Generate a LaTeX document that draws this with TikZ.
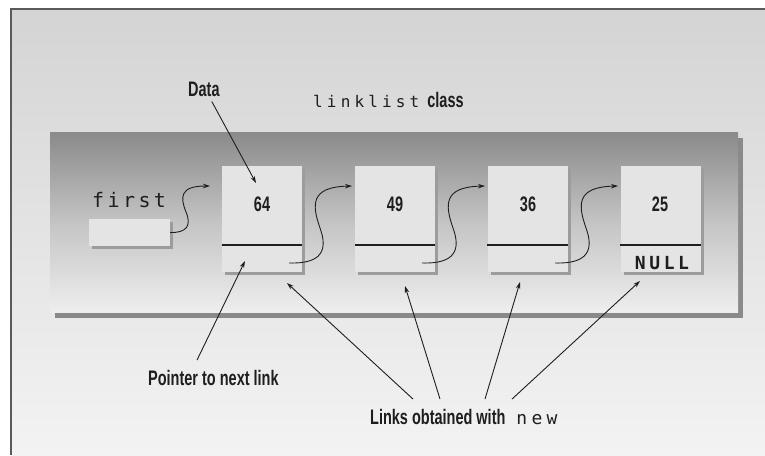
\documentclass[tikz,border=0pt]{standalone}
\usepackage{fontspec}
\usetikzlibrary{arrows.meta,shadows,calc}
\newfontfamily\condfont[FakeStretch=0.69]{Liberation Sans Bold}
\newfontfamily\monofont{DejaVu Sans Mono}
\definecolor{bgtop}{HTML}{D4D4D4}
\definecolor{bgbot}{HTML}{F3F3F3}
\definecolor{frm}{HTML}{5A5A5A}
\definecolor{clstop}{HTML}{8A8A8A}
\definecolor{clsmid}{HTML}{C4C4C4}
\definecolor{clsbot}{HTML}{EEEEEE}
\definecolor{clsshd}{HTML}{8A8A8A}
\definecolor{boxfill}{HTML}{E4E4E4}
\definecolor{boxshd}{HTML}{9C9C9C}
\definecolor{ink}{HTML}{1E1E1E}
\tikzset{
  lab/.style={font=\condfont\fontsize{21}{21}\selectfont, text=ink, inner sep=0pt},
  numtxt/.style={font=\condfont\fontsize{21}{21}\selectfont, text=ink, inner sep=0pt},
  linkbox/.style={fill=boxfill, draw=none, minimum width=80pt, minimum height=106pt, inner sep=0pt,
     drop shadow={shadow xshift=3pt, shadow yshift=-3pt, fill=boxshd, opacity=1}},
  divider/.style={draw=ink, line width=1.6pt},
  ptr/.style={draw=ink, line width=0.9pt, -{Stealth[length=7pt,width=4.5pt]}},
}
\newcommand{\spmono}[3]{{\monofont\fontsize{#1}{#1}\selectfont\addfontfeature{LetterSpace=#2}#3}}
\newcommand{\condtxt}[1]{{\condfont\fontsize{21}{21}\selectfont #1}}
\begin{document}
\begin{tikzpicture}[x=1pt,y=-1pt]
\useasboundingbox (0,0) rectangle (765,455);
\fill[white] (0,0) rectangle (765,455);
\fill[top color=bgtop, bottom color=bgbot] (11,9) rectangle (765,455);
\draw[frm, line width=1.2pt] (11,455) -- (11,9) -- (765,9);
% class container
\node[top color=clstop, bottom color=clsbot, middle color=clsmid, minimum width=688pt, minimum height=180pt, inner sep=0pt,
      drop shadow={shadow xshift=5pt, shadow yshift=-6pt, fill=clsshd, opacity=1}] (cls) at (394,222) {};
% title texts
\node[lab, anchor=west] (data) at (188,89) {Data};
\node[inner sep=0pt, anchor=west, text=ink] (title) at (313,100) {\spmono{16}{26}{linklist}\hspace{8pt}\condtxt{class}};
% first
\node[inner sep=0pt, anchor=west, text=ink] (fname) at (92,200) {\spmono{20}{17}{first}};
\node[fill=boxfill, minimum width=81pt, minimum height=27pt, inner sep=0pt,
      drop shadow={shadow xshift=3pt, shadow yshift=-3pt, fill=boxshd, opacity=1}] (fbox) at (129.5,232.5) {};
% links
\node[linkbox] (l1) at (262,219) {};
\node[linkbox] (l2) at (395,219) {};
\node[linkbox] (l3) at (527.5,219) {};
\node[linkbox] (l4) at (660.5,219) {};
\foreach \n in {l1,l2,l3,l4}{
  \draw[divider] ($(\n.south west)+(0pt,27pt)$) -- ($(\n.south east)+(0pt,27pt)$);
}
\node[numtxt] (d1) at (262,204) {64};
\node[numtxt] (d2) at (395,204) {49};
\node[numtxt] (d3) at (528,204) {36};
\node[numtxt] (d4) at (660,204) {25};
\node[inner sep=0pt, text=ink] (nul) at (662,263) {\bfseries\spmono{18}{20}{NULL}};
% pointer fields and targets
\coordinate (p1) at (289,263);
\coordinate (p2) at (422,263);
\coordinate (p3) at (555,263);
\coordinate (t1) at (210,186);
\coordinate (t2) at (352,186);
\coordinate (t3) at (485,186);
\coordinate (t4) at (618,186);
\draw[ptr] (fbox.east) .. controls (186,233) and (192,226) .. (186,212) .. controls (180,197) and (180,186) .. (t1);
\draw[ptr] (p1) .. controls (322,264) and (328,250) .. (320,228) .. controls (312,205) and (310,187) .. (t2);
\draw[ptr] (p2) .. controls (455,264) and (461,250) .. (453,228) .. controls (445,205) and (443,187) .. (t3);
\draw[ptr] (p3) .. controls (588,264) and (594,250) .. (586,228) .. controls (578,205) and (576,187) .. (t4);
% bottom labels
\node[lab, anchor=west] (ptxt) at (148,378) {Pointer to next link};
\node[inner sep=0pt, anchor=west, text=ink] (ltxt) at (370,417) {\condtxt{Links obtained with}\hspace{11pt}\spmono{18}{24}{new}};
% label arrows
\coordinate (dtip) at (256,183);
\coordinate (ptip) at (245,261);
\coordinate (a1) at (287,283);
\coordinate (a2) at (405,286);
\coordinate (a3) at (520,282);
\coordinate (a4) at (640,281);
\draw[ptr] ([shift={(-8pt,-5pt)}]data.south east) -- (dtip);
\draw[ptr] ([shift={(49pt,10pt)}]ptxt.north west) -- (ptip);
\draw[ptr] ([shift={(43pt,10pt)}]ltxt.north west) -- (a1);
\draw[ptr] ([shift={(70pt,10pt)}]ltxt.north west) -- (a2);
\draw[ptr] ([shift={(115pt,10pt)}]ltxt.north west) -- (a3);
\draw[ptr] ([shift={(142pt,10pt)}]ltxt.north west) -- (a4);
\end{tikzpicture}
\end{document}
